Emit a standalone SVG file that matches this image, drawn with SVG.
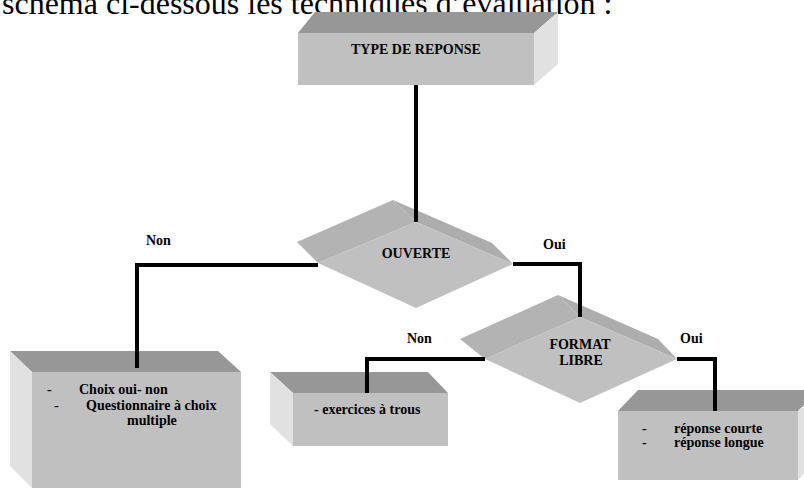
<svg xmlns="http://www.w3.org/2000/svg" width="804" height="488" viewBox="0 0 804 488">
<style>
.front{fill:#c0c0c0}
.top{fill:#979797}
.side{fill:#e1e1e1}
.bandL{fill:#b3b3b3}
.bandR{fill:#adadad}
.lbl{font-family:"Liberation Serif","Times New Roman",serif;font-weight:bold;font-size:14px;fill:#000}
.mid{text-anchor:middle}
.conn{fill:none;stroke:#000;stroke-width:4;stroke-linejoin:miter}
.head{font-family:"Liberation Serif","Times New Roman",serif;font-size:32px;fill:#000}
</style>
<rect x="0" y="0" width="804" height="488" fill="#fff"/>
<text class="head" x="2" y="14">schéma ci-dessous les techniques d’évaluation :</text>

<g id="type-reponse">
<polygon class="top" points="298,33 315,12 558,12 534,33"/>
<polygon class="side" points="534,33 558,12 558,64 534,85"/>
<rect class="front" x="298" y="33" width="236" height="52"/>
<text class="lbl mid" x="416" y="54">TYPE DE REPONSE</text>
</g>

<g id="ouverte">
<polygon class="bandL" points="297,242 393,200 416,222 318,263"/>
<polygon class="bandR" points="393,200 492,243 513,264 416,222"/>
<polygon class="front" points="416,222 513,264 416,308 318,263"/>
<text class="lbl mid" x="416" y="258">OUVERTE</text>
</g>

<g id="format-libre">
<polygon class="bandL" points="460,339 558,295 580,317 485,359"/>
<polygon class="bandR" points="558,295 658,339 677,359 580,317"/>
<polygon class="front" points="580,317 677,359 580,403 485,359"/>
<text class="lbl mid" x="580" y="349">FORMAT</text>
<text class="lbl mid" x="581" y="365">LIBRE</text>
</g>

<g id="choix">
<polygon class="top" points="10,351 218,351 241,372 32,372"/>
<polygon class="side" points="10,351 32,372 32,488 10,466"/>
<rect class="front" x="32" y="372" width="209" height="116"/>
<text class="lbl" x="47" y="394">-</text>
<text class="lbl" x="79" y="394">Choix oui- non</text>
<text class="lbl" x="54" y="410">-</text>
<text class="lbl" x="86" y="410">Questionnaire à choix</text>
<text class="lbl" x="127" y="425">multiple</text>
</g>

<g id="exercices">
<polygon class="top" points="270,372 428,372 448,393 293,393"/>
<polygon class="side" points="270,372 293,393 293,446 270,424"/>
<rect class="front" x="293" y="393" width="155" height="53"/>
<text class="lbl" x="314" y="414">- exercices à trous</text>
</g>

<g id="reponse">
<polygon class="top" points="618,411 638,390 819,390 798,411"/>
<polygon class="side" points="798,411 819,390 819,459 798,480"/>
<rect class="front" x="618" y="411" width="180" height="69"/>
<text class="lbl" x="642" y="433">-</text>
<text class="lbl" x="674" y="433">réponse courte</text>
<text class="lbl" x="642" y="447">-</text>
<text class="lbl" x="674" y="447">réponse longue</text>
</g>

<g id="connectors">
<path class="conn" d="M416,85 V222"/>
<path class="conn" d="M318,265 H137 V368"/>
<path class="conn" d="M513,264 H580 V317"/>
<path class="conn" d="M485,359 H367 V393"/>
<path class="conn" d="M677,359 H715 V411"/>
<text class="lbl" x="146" y="245">Non</text>
<text class="lbl" x="543" y="249">Oui</text>
<text class="lbl" x="407" y="343">Non</text>
<text class="lbl" x="680" y="343">Oui</text>
</g>
</svg>
